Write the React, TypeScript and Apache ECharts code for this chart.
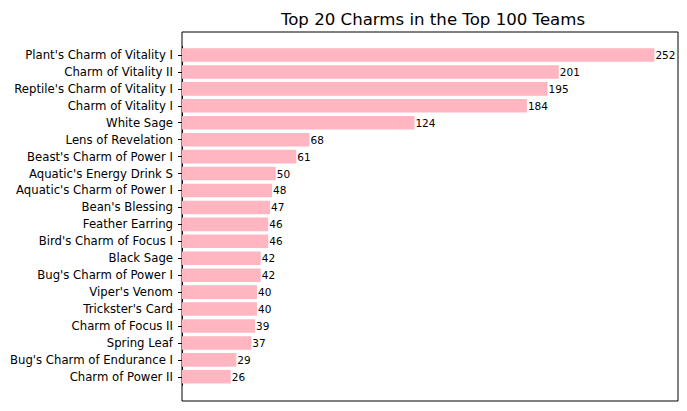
import React, { useEffect, useRef } from "react";
import * as echarts from "echarts";

// Charm names, most used first
const charms: string[] = [
  "Plant's Charm of Vitality I",
  "Charm of Vitality II",
  "Reptile's Charm of Vitality I",
  "Charm of Vitality I",
  "White Sage",
  "Lens of Revelation",
  "Beast's Charm of Power I",
  "Aquatic's Energy Drink S",
  "Aquatic's Charm of Power I",
  "Bean's Blessing",
  "Feather Earring",
  "Bird's Charm of Focus I",
  "Black Sage",
  "Bug's Charm of Power I",
  "Viper's Venom",
  "Trickster's Card",
  "Charm of Focus II",
  "Spring Leaf",
  "Bug's Charm of Endurance I",
  "Charm of Power II",
];

// How many of the top 100 teams use each charm
const counts: number[] = [252, 201, 195, 184, 124, 68, 61, 50, 48, 47, 46, 46, 42, 42, 40, 40, 39, 37, 29, 26];

const FONT = "DejaVu Sans";

export default function App() {
  const ref = useRef<HTMLDivElement>(null);

  useEffect(() => {
    if (!ref.current) return;
    const chart = echarts.init(ref.current, undefined, { renderer: "svg" });
    const maxVal = Math.max(...counts);
    chart.setOption({
      animation: false,
      backgroundColor: "#ffffff",
      title: {
        text: "Top 20 Charms in the Top 100 Teams",
        left: 428,
        top: 6,
        textAlign: "center",
        textStyle: { fontFamily: FONT, fontSize: 16.6, fontWeight: "normal", color: "#000" },
      },
      grid: [
        // bar area (category bands)
        { left: 182, width: 496, top: 46.5, height: 338.8, show: false },
        // axes frame
        { left: 182, width: 496, top: 32, height: 369, show: true, borderColor: "#000", borderWidth: 1, backgroundColor: "transparent" },
      ],
      xAxis: [
        { type: "value", gridIndex: 0, min: 0, max: maxVal * 1.05, show: false },
        { type: "value", gridIndex: 1, min: 0, max: 1, show: false },
      ],
      yAxis: [
        {
          type: "category",
          gridIndex: 0,
          inverse: true,
          data: charms,
          axisLine: { show: true, lineStyle: { color: "#000", width: 1 } },
          axisTick: { show: true, alignWithLabel: true, length: 4, lineStyle: { color: "#000", width: 1 } },
          axisLabel: { color: "#000", fontFamily: FONT, fontSize: 11.7, margin: 9 },
          splitLine: { show: false },
        },
        { type: "value", gridIndex: 1, min: 0, max: 1, show: false },
      ],
      series: [
        {
          type: "bar",
          xAxisIndex: 0,
          yAxisIndex: 0,
          data: counts,
          barCategoryGap: "20%",
          itemStyle: { color: "#FFB6C1" },
          label: {
            show: true,
            position: "right",
            distance: 1,
            color: "#000",
            fontFamily: FONT,
            fontSize: 10.5,
          },
        },
      ],
    });
    return () => chart.dispose();
  }, []);

  return (
    <div
      ref={ref}
      style={{ position: "absolute", left: 0, top: 0, width: 687, height: 411 }}
    />
  );
}
